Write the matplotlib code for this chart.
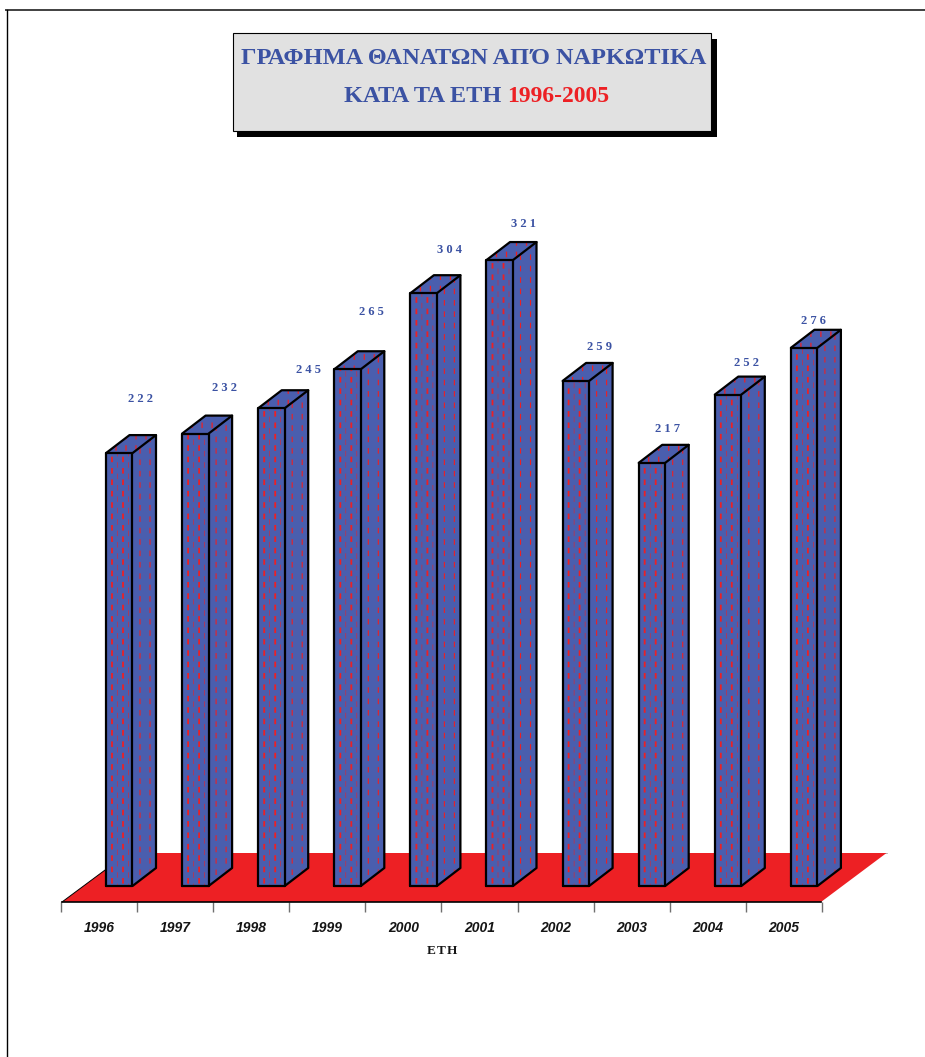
import matplotlib
matplotlib.use("Agg")
import matplotlib.pyplot as plt
from matplotlib.lines import Line2D
from matplotlib.patches import Polygon, Rectangle

plt.rcParams["lines.scale_dashes"] = False

# ---- data ----
years = ["1996", "1997", "1998", "1999", "2000", "2001", "2002", "2003", "2004", "2005"]
deaths = [222, 232, 245, 265, 304, 321, 259, 217, 252, 276]
# label nudges from the bar's front-top-left corner, in pixels (as in the reference)
label_dx = [35, 42, 50, 37.5, 39, 37.5, 37, 29, 32, 23]
label_dy = [54, 46, 38, 57, 43, 36, 34, 34, 32, 27]

title_line1 = "ΓΡΑΦΗΜΑ ΘΑΝΑΤΩΝ ΑΠ\u200aΌ ΝΑΡΚΩΤΙΚΑ"
title_line2a = "ΚΑΤΑ ΤΑ ΕΤΗ"
title_line2b = "1996-2005"
x_label = "Ε\u200aΤ\u200aΗ"

# ---- style ----
W, H = 925, 1057
BLUE = "#4A5EAE"
TITLE_BLUE = "#3B52A3"
RED = "#ED2024"
SERIF = "Liberation Serif"
SANS = "Liberation Sans"

PX_PER_SLOT = 76.1
PX_PER_UNIT = 1.95
X0_PX, Y0_PX = 99.0, 886.0

fig = plt.figure(figsize=(W / 100, H / 100), dpi=100, facecolor="white")
ax = fig.add_axes([0, 0, 1, 1], facecolor="none")
ax.set_xlim(-X0_PX / PX_PER_SLOT, (W - X0_PX) / PX_PER_SLOT)
ax.set_ylim((Y0_PX - H) / PX_PER_UNIT, Y0_PX / PX_PER_UNIT)


def sx(px):
    return px / PX_PER_SLOT


def sy(px):
    return px / PX_PER_UNIT


def to_x(px):
    return (px - X0_PX) / PX_PER_SLOT


def to_y(py):
    return (Y0_PX - py) / PX_PER_UNIT


# floor
floor_front = to_y(902)
floor_back = to_y(853)
ax.add_patch(Polygon([(to_x(62), floor_front), (to_x(821), floor_front),
                      (to_x(886.5), floor_back), (to_x(128), floor_back)],
                     closed=True, facecolor=RED, edgecolor="none", zorder=1))
ax.plot([to_x(62), to_x(128)], [floor_front, floor_back], color="black", lw=0.7, zorder=1.5)
ax.plot([to_x(128), to_x(886.5)], [floor_back, floor_back], color="#999999", lw=0.5, zorder=0.9)

# bars
bar_off = sx(7.0)
bar_w = sx(26.5)
dep_x = sx(23.5)
dep_y = sy(18.0)
LW = 1.6


def dash_fill(poly, xs_px, top, z, lw, phase=0.0):
    """Red dashed pattern clipped to a bar face."""
    for xp in xs_px:
        ln = Line2D([to_x(xp), to_x(xp)], [to_y(895), top + sy(25)],
                    color=RED, lw=lw, linestyle=(phase, (4.0, 4.2)), zorder=z,
                    dash_capstyle="butt", snap=False)
        ax.add_line(ln)
        ln.set_clip_path(poly)


for i, v in enumerate(deaths):
    z = 3 + i
    left = i + bar_off
    right = left + bar_w
    side = Polygon([(right, 0), (right + dep_x, dep_y), (right + dep_x, v + dep_y), (right, v)],
                   closed=True, facecolor=BLUE, edgecolor="none", zorder=z)
    top = Polygon([(left, v), (right, v), (right + dep_x, v + dep_y), (left + dep_x, v + dep_y)],
                  closed=True, facecolor=BLUE, edgecolor="none", zorder=z)
    ax.add_patch(side)
    ax.add_patch(top)
    # front face: a Polygon with the same corners as a bar, so it also clips its dashes
    front = Polygon([(left, 0), (right, 0), (right, v), (left, v)],
                    closed=True, facecolor=BLUE, edgecolor="none", zorder=z)
    ax.add_patch(front)

    lp = X0_PX + (i + 0.092) * PX_PER_SLOT
    dash_fill(front, [lp + 6, lp + 17], v, z + 0.1, 1.3)
    dash_fill(front, [lp + 11.5, lp + 22.5], v, z + 0.1, 0.4, phase=4.0)
    dash_fill(side, [lp + 34, lp + 44], v + dep_y, z + 0.1, 0.8, phase=2.0)
    dash_fill(top, [lp + 10, lp + 20, lp + 30, lp + 40], v + dep_y, z + 0.1, 0.9)

    outline = dict(color="black", lw=LW, solid_capstyle="round", solid_joinstyle="round", zorder=z + 0.2)
    ax.plot([left, right, right, left, left], [0, 0, v, v, 0], **outline)
    ax.plot([right, right + dep_x, right + dep_x, left + dep_x, left],
            [0, dep_y, v + dep_y, v + dep_y, v], **outline)
    ax.plot([right, right + dep_x], [v, v + dep_y], **outline)

    ax.text(left + sx(label_dx[i]), v + sy(label_dy[i]), " ".join(str(v)),
            family=SERIF, weight="bold", fontsize=9, color=TITLE_BLUE,
            ha="center", va="center", zorder=20)

# x axis: real spine and ticks at the front edge of the floor
for name in ("top", "left", "right"):
    ax.spines[name].set_visible(False)
ax.spines["bottom"].set_position(("data", floor_front))
ax.spines["bottom"].set_linewidth(1.2)
ax.spines["bottom"].set_bounds(to_x(62), to_x(821))
ax.spines["bottom"].set_zorder(2)
ax.yaxis.set_visible(False)
ax.set_xticks([i - 0.5 for i in range(len(years) + 1)])
ax.set_xticklabels([])
ax.set_xticks(range(len(years)), minor=True)
ax.set_xticklabels(years, minor=True, family=SANS, style="italic", weight="bold",
                   fontsize=10, color="#151515")
ax.tick_params(axis="x", which="major", length=7.5, width=1.0, color="#707070", direction="out")
ax.tick_params(axis="x", which="minor", length=0, pad=13.5)

ax.text(to_x(442), to_y(951), x_label, family=SERIF, weight="bold", fontsize=9.5,
        color="#151515", ha="center", va="center")


# title box (figure pixels, y flipped)
def fx(px):
    return px / W


def fy(py):
    return 1 - py / H


fig.add_artist(Rectangle((fx(237), fy(137)), 480 / W, 98 / H, transform=fig.transFigure,
                         facecolor="black", edgecolor="none", zorder=30))
fig.add_artist(Rectangle((fx(233.5), fy(130.5)), 477.5 / W, 97 / H, transform=fig.transFigure,
                         facecolor="#E1E1E1", edgecolor="black", lw=0.8, zorder=31))
fig.text(fx(473.5), fy(59), title_line1, family=SERIF, weight="bold", fontsize=17.5,
         color=TITLE_BLUE, ha="center", va="center", zorder=32)
fig.text(fx(501.5), fy(96.5), title_line2a, family=SERIF, weight="bold", fontsize=17.5,
         color=TITLE_BLUE, ha="right", va="center", zorder=32)
fig.text(fx(507), fy(96.5), title_line2b, family=SERIF, weight="bold", fontsize=17,
         color=RED, ha="left", va="center", zorder=32)

# page frame
fig.add_artist(Line2D([fx(6), 1], [fy(10), fy(10)], transform=fig.transFigure,
                      color="#404040", lw=1.4))
fig.add_artist(Line2D([fx(6.5), fx(6.5)], [0, fy(10)], transform=fig.transFigure,
                      color="black", lw=1.0))

fig.savefig("out.png", dpi=100)
